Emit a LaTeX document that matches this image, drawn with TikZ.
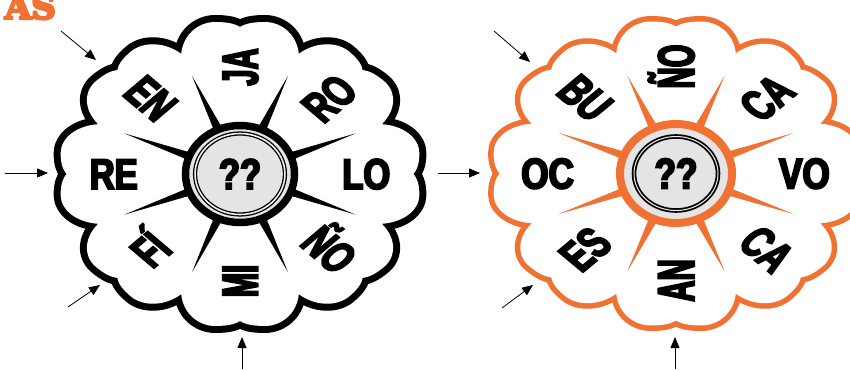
\documentclass[tikz,border=0pt]{standalone}
\usepackage{fontspec}
\usetikzlibrary{arrows.meta}
\newfontfamily\petalfont[FakeStretch=0.68,FakeBold=4]{Liberation Sans Bold}
\newfontfamily\titlefont[FakeBold=7]{DejaVu Serif Bold}
\definecolor{petalorange}{RGB}{240,113,50}
\definecolor{hubgray}{RGB}{228,228,228}

\tikzset{
  petal label/.style={font={\petalfont\fontsize{43pt}{43pt}\selectfont},
    text height=30pt,text depth=0pt,inner sep=0pt,transform shape},
  title/.style={font={\titlefont\fontsize{34pt}{34pt}\selectfont},
    text=petalorange,inner sep=0pt},
  pointer/.style={line width=0.8pt,-{Triangle[length=11pt,width=9pt]}}
}

\newcommand{\heart}{(40,0) .. controls (70,28) and (92,50) .. (116,50)
  .. controls (138,50) and (152,36) .. (152,21) .. controls (152,10) and (150,4) .. (147,0)
  .. controls (150,-4) and (152,-10) .. (152,-21) .. controls (152,-36) and (138,-50) .. (116,-50)
  .. controls (92,-50) and (70,-28) .. (40,0) -- cycle}

% eight heart petals: outline first, then white fill on top
\newcommand{\drawpetals}[2]{
  \foreach \a in {0,45,...,315}
    \draw[#1,line width=#2,rotate=\a] \heart;
  \fill[white] (0,0) circle (122);
  \foreach \a in {0,45,...,315}
    \fill[white,rotate=\a] \heart;
  \foreach \a in {22.5,67.5,...,337.5}
    \fill[#1] (\a+5:45) -- (\a:106) -- (\a-5:45) -- cycle;
}
% hub: #1 colour, #2 ring width, #3/#4 ring radii, #5/#6 inner line radii, #7 line, #8 gap
\newcommand{\drawhub}[8]{
  \draw[#1,line width=#2,fill=hubgray] (0,0) ellipse [x radius=#3,y radius=#4];
  \draw[black,line width=#7,double=hubgray!60,double distance=#8] (0,0) ellipse [x radius=#5,y radius=#6];
}

\begin{document}
\begin{tikzpicture}[x=1pt,y=1pt]
  \useasboundingbox (0,0) rectangle (850,369);
  \node[title,anchor=base east] (title) at (56,350) {AS};

  % left flower
  \begin{scope}[shift={(240,195)},xscale=1.18]
    \drawpetals{black}{14pt}
    \drawhub{black}{7.5pt}{46.2}{48.5}{38.1}{40.5}{1.3pt}{1.6pt}
    \node[petal label] (left-q) at (0,0) {??};
    \foreach \ang/\word/\rot in {0/LO/0,45/RO/45,90/JA/90,135/EN/-45,
                                 180/RE/0,225/FÍ/45,270/MI/90,315/ÑO/-45}
      \node[petal label,rotate=\rot] (left-\ang) at (\ang:107) {\word};
  \end{scope}

  % right flower
  \begin{scope}[shift={(676,195.5)},xscale=1.2]
    \drawpetals{petalorange}{11pt}
    \drawhub{petalorange}{8pt}{46.7}{49.5}{35}{37}{1.8pt}{1pt}
    \node[petal label] (right-q) at (0,0) {??};
    \foreach \ang/\word/\rot in {0/VO/0,45/CA/45,90/ÑO/90,135/BU/-45,
                                 180/OC/0,225/ES/45,270/AN/90,315/CA/-45}
      \node[petal label,rotate=\rot] (right-\ang) at (\ang:107) {\word};
  \end{scope}

  % arrows into the petals
  \coordinate (en-from) at (61,338);   \coordinate (en-to) at (96,309);
  \coordinate (re-from) at (5,196);    \coordinate (re-to) at (48,196);
  \coordinate (fi-from) at (68,62);    \coordinate (fi-to) at (100,84);
  \coordinate (mi-from) at (242,0);    \coordinate (mi-to) at (242,32);
  \coordinate (bu-from) at (494,338);  \coordinate (bu-to) at (530,307);
  \coordinate (oc-from) at (438,196);  \coordinate (oc-to) at (480,196);
  \coordinate (es-from) at (502,61);   \coordinate (es-to) at (533,84);
  \coordinate (an-from) at (675,0);    \coordinate (an-to) at (675,32);

  \draw[pointer] (en-from) -- (en-to);
  \draw[pointer] (re-from) -- (re-to);
  \draw[pointer] (fi-from) -- (fi-to);
  \draw[pointer] (mi-from) -- (mi-to);
  \draw[pointer] (bu-from) -- (bu-to);
  \draw[pointer] (oc-from) -- (oc-to);
  \draw[pointer] (es-from) -- (es-to);
  \draw[pointer] (an-from) -- (an-to);
\end{tikzpicture}
\end{document}
